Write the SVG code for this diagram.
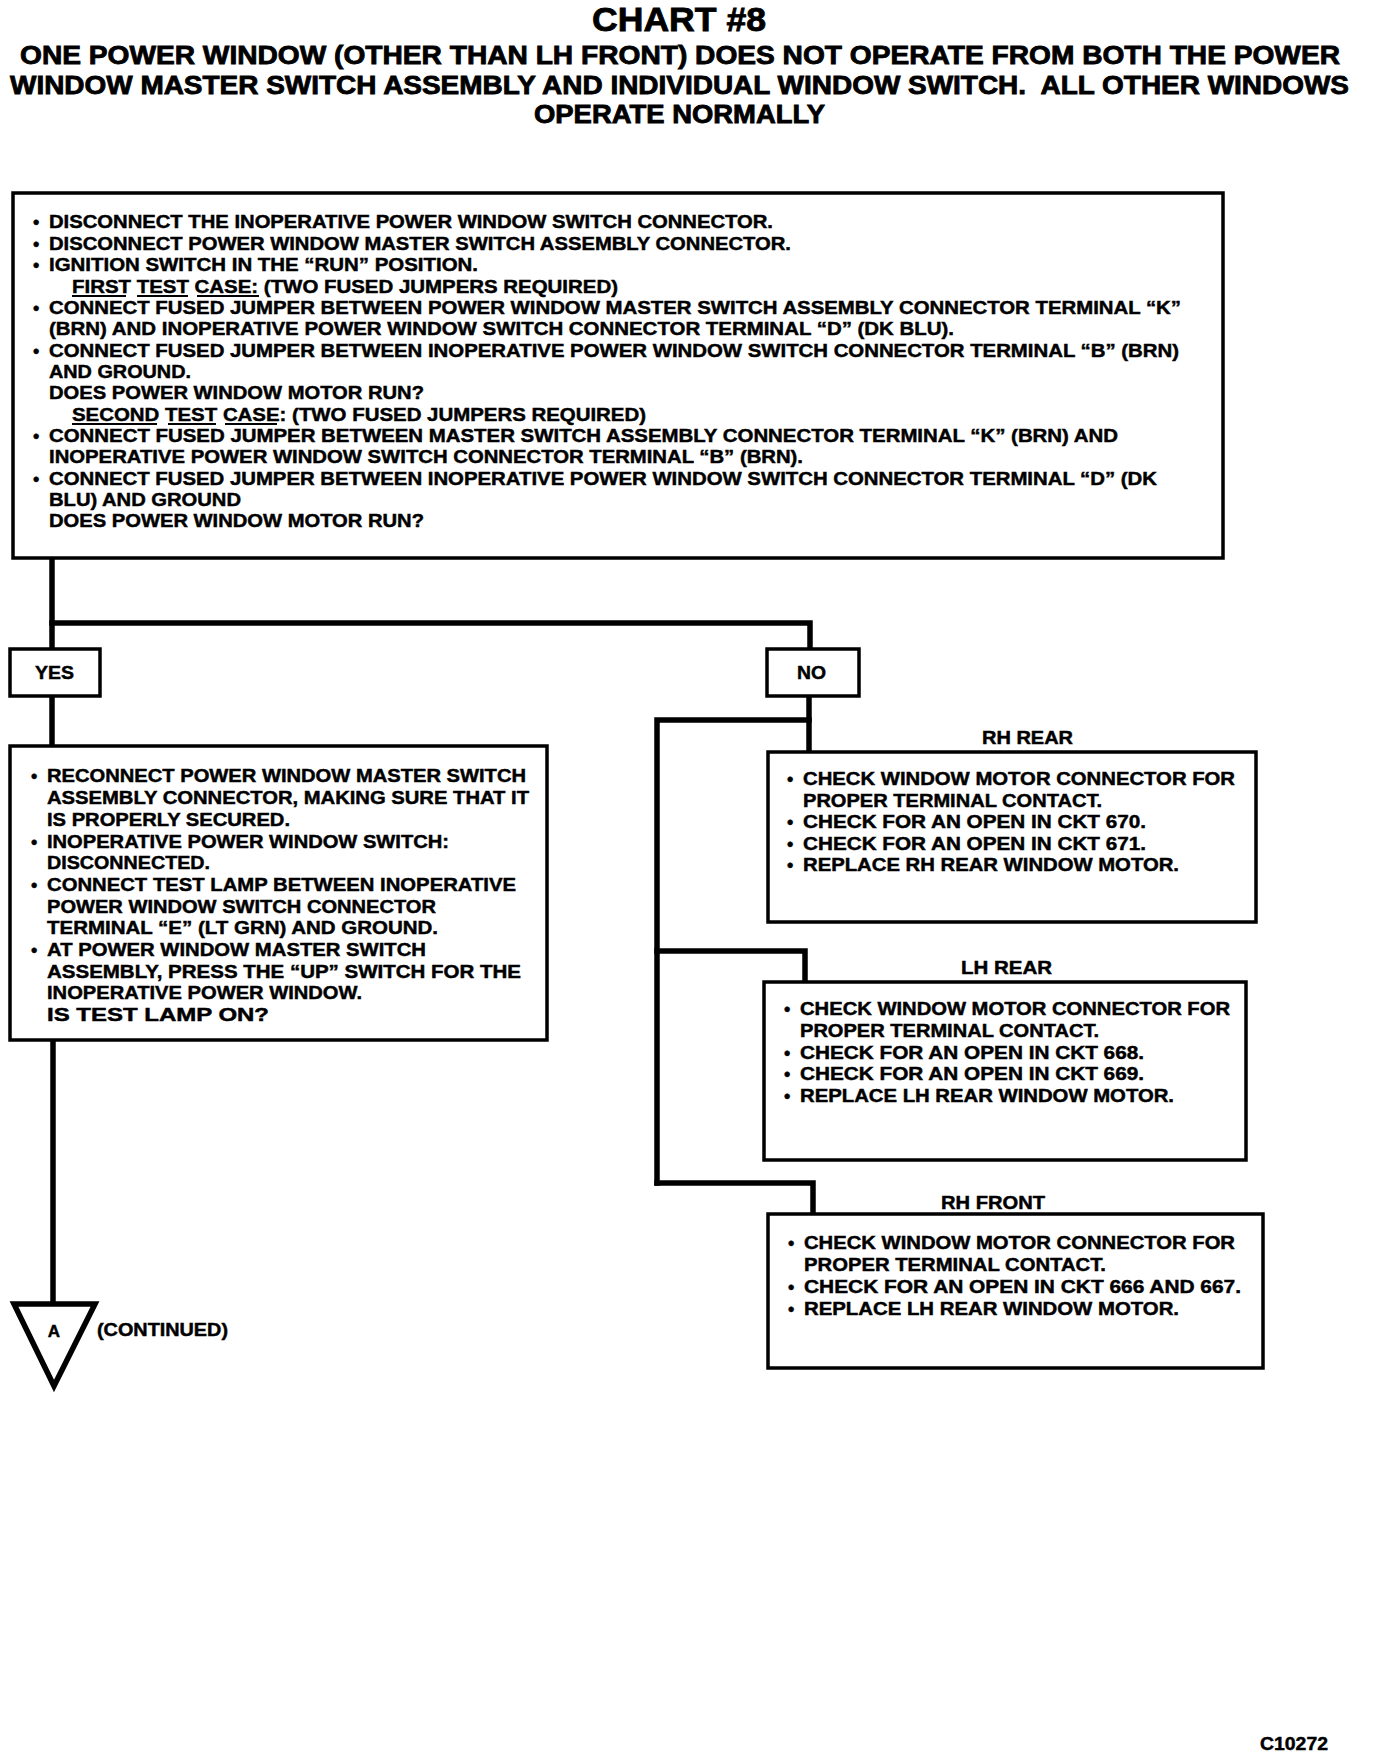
<svg xmlns="http://www.w3.org/2000/svg" width="1376" height="1758" viewBox="0 0 1376 1758">
<style>
text{font-family:"Liberation Sans",Arial,sans-serif;font-weight:bold;fill:#000;stroke:#000;stroke-width:0.45}
.b{font-size:18px}
.t{font-size:33px;stroke-width:0.8}
.s{font-size:25px;stroke-width:0.8}
.box{fill:#fff;stroke:#000;stroke-width:3.5}
.con{fill:none;stroke:#000;stroke-width:5.5;stroke-linecap:square}
.ul{stroke:#000;stroke-width:2}
</style>
<rect width="1376" height="1758" fill="#fff"/>
<g id="title">
<text class="t" x="592" y="31" textLength="174" lengthAdjust="spacingAndGlyphs">CHART #8</text>
<text class="s" x="20" y="64" textLength="1320" lengthAdjust="spacingAndGlyphs">ONE POWER WINDOW (OTHER THAN LH FRONT) DOES NOT OPERATE FROM BOTH THE POWER</text>
<text class="s" x="10" y="94" textLength="1339" lengthAdjust="spacingAndGlyphs" xml:space="preserve">WINDOW MASTER SWITCH ASSEMBLY AND INDIVIDUAL WINDOW SWITCH.  ALL OTHER WINDOWS</text>
<text class="s" x="534" y="123" textLength="291" lengthAdjust="spacingAndGlyphs">OPERATE NORMALLY</text>
</g>
<g id="connectors">
<polyline class="con" points="52,558 52,649"/>
<polyline class="con" points="52,623 810,623 810,649"/>
<polyline class="con" points="52,696 52,746"/>
<polyline class="con" points="53,1040 53,1304"/>
<polyline class="con" points="809,696 809,752"/>
<polyline class="con" points="809,720 657,720 657,1183"/>
<polyline class="con" points="657,951 805,951 805,982"/>
<polyline class="con" points="657,1183 813,1183 813,1214"/>
</g>
<g id="start">
<rect class="box" x="13" y="193" width="1210" height="365"/>
<text class="b" x="33" y="228.4">•</text><text class="b" x="49" y="228.4" textLength="724" lengthAdjust="spacingAndGlyphs">DISCONNECT THE INOPERATIVE POWER WINDOW SWITCH CONNECTOR.</text>
<text class="b" x="33" y="249.8">•</text><text class="b" x="49" y="249.8" textLength="742" lengthAdjust="spacingAndGlyphs">DISCONNECT POWER WINDOW MASTER SWITCH ASSEMBLY CONNECTOR.</text>
<text class="b" x="33" y="271.1">•</text><text class="b" x="49" y="271.1" textLength="429" lengthAdjust="spacingAndGlyphs">IGNITION SWITCH IN THE “RUN” POSITION.</text>
<text class="b" x="72" y="292.5" textLength="546" lengthAdjust="spacingAndGlyphs">FIRST TEST CASE: (TWO FUSED JUMPERS REQUIRED)</text>
<line class="ul" x1="72" y1="296" x2="126" y2="296"/><line class="ul" x1="137" y1="296" x2="188" y2="296"/><line class="ul" x1="197" y1="296" x2="259" y2="296"/>
<text class="b" x="33" y="313.8">•</text><text class="b" x="49" y="313.8" textLength="1132" lengthAdjust="spacingAndGlyphs">CONNECT FUSED JUMPER BETWEEN POWER WINDOW MASTER SWITCH ASSEMBLY CONNECTOR TERMINAL “K”</text>
<text class="b" x="49" y="335.2" textLength="905" lengthAdjust="spacingAndGlyphs">(BRN) AND INOPERATIVE POWER WINDOW SWITCH CONNECTOR TERMINAL “D” (DK BLU).</text>
<text class="b" x="33" y="356.6">•</text><text class="b" x="49" y="356.6" textLength="1130" lengthAdjust="spacingAndGlyphs">CONNECT FUSED JUMPER BETWEEN INOPERATIVE POWER WINDOW SWITCH CONNECTOR TERMINAL “B” (BRN)</text>
<text class="b" x="49" y="377.9" textLength="142" lengthAdjust="spacingAndGlyphs">AND GROUND.</text>
<text class="b" x="49" y="399.3" textLength="375" lengthAdjust="spacingAndGlyphs">DOES POWER WINDOW MOTOR RUN?</text>
<text class="b" x="72" y="420.6" textLength="574" lengthAdjust="spacingAndGlyphs">SECOND TEST CASE: (TWO FUSED JUMPERS REQUIRED)</text>
<line class="ul" x1="72" y1="424" x2="157" y2="424"/><line class="ul" x1="168" y1="424" x2="216" y2="424"/><line class="ul" x1="225" y1="424" x2="277" y2="424"/>
<text class="b" x="33" y="442">•</text><text class="b" x="49" y="442" textLength="1069" lengthAdjust="spacingAndGlyphs">CONNECT FUSED JUMPER BETWEEN MASTER SWITCH ASSEMBLY CONNECTOR TERMINAL “K” (BRN) AND</text>
<text class="b" x="49" y="463.4" textLength="754" lengthAdjust="spacingAndGlyphs">INOPERATIVE POWER WINDOW SWITCH CONNECTOR TERMINAL “B” (BRN).</text>
<text class="b" x="33" y="484.7">•</text><text class="b" x="49" y="484.7" textLength="1108" lengthAdjust="spacingAndGlyphs">CONNECT FUSED JUMPER BETWEEN INOPERATIVE POWER WINDOW SWITCH CONNECTOR TERMINAL “D” (DK</text>
<text class="b" x="49" y="506.1" textLength="192" lengthAdjust="spacingAndGlyphs">BLU) AND GROUND</text>
<text class="b" x="49" y="527.4" textLength="375" lengthAdjust="spacingAndGlyphs">DOES POWER WINDOW MOTOR RUN?</text>
</g>
<g id="yes">
<rect class="box" x="10" y="649" width="90" height="47"/>
<text class="b" x="35" y="679" textLength="39" lengthAdjust="spacingAndGlyphs">YES</text>
</g>
<g id="no">
<rect class="box" x="767" y="649" width="92" height="47"/>
<text class="b" x="797" y="679" textLength="29" lengthAdjust="spacingAndGlyphs">NO</text>
</g>
<g id="test-lamp">
<rect class="box" x="10" y="746" width="537" height="294"/>
<text class="b" x="31" y="782.4">•</text><text class="b" x="47" y="782.4" textLength="479" lengthAdjust="spacingAndGlyphs">RECONNECT POWER WINDOW MASTER SWITCH</text>
<text class="b" x="47" y="804.1" textLength="482" lengthAdjust="spacingAndGlyphs">ASSEMBLY CONNECTOR, MAKING SURE THAT IT</text>
<text class="b" x="47" y="825.8" textLength="243" lengthAdjust="spacingAndGlyphs">IS PROPERLY SECURED.</text>
<text class="b" x="31" y="847.5">•</text><text class="b" x="47" y="847.5" textLength="402" lengthAdjust="spacingAndGlyphs">INOPERATIVE POWER WINDOW SWITCH:</text>
<text class="b" x="47" y="869.2" textLength="163" lengthAdjust="spacingAndGlyphs">DISCONNECTED.</text>
<text class="b" x="31" y="890.9">•</text><text class="b" x="47" y="890.9" textLength="469" lengthAdjust="spacingAndGlyphs">CONNECT TEST LAMP BETWEEN INOPERATIVE</text>
<text class="b" x="47" y="912.6" textLength="389" lengthAdjust="spacingAndGlyphs">POWER WINDOW SWITCH CONNECTOR</text>
<text class="b" x="47" y="934.3" textLength="391" lengthAdjust="spacingAndGlyphs">TERMINAL “E” (LT GRN) AND GROUND.</text>
<text class="b" x="31" y="956">•</text><text class="b" x="47" y="956" textLength="379" lengthAdjust="spacingAndGlyphs">AT POWER WINDOW MASTER SWITCH</text>
<text class="b" x="47" y="977.7" textLength="474" lengthAdjust="spacingAndGlyphs">ASSEMBLY, PRESS THE “UP” SWITCH FOR THE</text>
<text class="b" x="47" y="999.4" textLength="315" lengthAdjust="spacingAndGlyphs">INOPERATIVE POWER WINDOW.</text>
<text class="b" x="47" y="1021.1" textLength="222" lengthAdjust="spacingAndGlyphs">IS TEST LAMP ON?</text>
</g>
<g id="continued">
<polygon points="14,1304 95,1304 54,1386" fill="#fff" stroke="#000" stroke-width="5.5" stroke-linejoin="miter"/>
<text x="54" y="1337" font-size="17" text-anchor="middle">A</text>
<text class="b" x="97" y="1336" textLength="131" lengthAdjust="spacingAndGlyphs">(CONTINUED)</text>
</g>
<g id="rh-rear">
<text class="b" x="982" y="744" textLength="91" lengthAdjust="spacingAndGlyphs">RH REAR</text>
<rect class="box" x="768" y="752" width="488" height="170"/>
<text class="b" x="787" y="785.4">•</text><text class="b" x="803" y="785.4" textLength="432" lengthAdjust="spacingAndGlyphs">CHECK WINDOW MOTOR CONNECTOR FOR</text>
<text class="b" x="803" y="806.9" textLength="299" lengthAdjust="spacingAndGlyphs">PROPER TERMINAL CONTACT.</text>
<text class="b" x="787" y="828.4">•</text><text class="b" x="803" y="828.4" textLength="343" lengthAdjust="spacingAndGlyphs">CHECK FOR AN OPEN IN CKT 670.</text>
<text class="b" x="787" y="849.9">•</text><text class="b" x="803" y="849.9" textLength="343" lengthAdjust="spacingAndGlyphs">CHECK FOR AN OPEN IN CKT 671.</text>
<text class="b" x="787" y="871.4">•</text><text class="b" x="803" y="871.4" textLength="376" lengthAdjust="spacingAndGlyphs">REPLACE RH REAR WINDOW MOTOR.</text>
</g>
<g id="lh-rear">
<text class="b" x="961" y="974" textLength="91" lengthAdjust="spacingAndGlyphs">LH REAR</text>
<rect class="box" x="764" y="982" width="482" height="178"/>
<text class="b" x="784" y="1015.4">•</text><text class="b" x="800" y="1015.4" textLength="430" lengthAdjust="spacingAndGlyphs">CHECK WINDOW MOTOR CONNECTOR FOR</text>
<text class="b" x="800" y="1037" textLength="299" lengthAdjust="spacingAndGlyphs">PROPER TERMINAL CONTACT.</text>
<text class="b" x="784" y="1058.6">•</text><text class="b" x="800" y="1058.6" textLength="344" lengthAdjust="spacingAndGlyphs">CHECK FOR AN OPEN IN CKT 668.</text>
<text class="b" x="784" y="1080.2">•</text><text class="b" x="800" y="1080.2" textLength="344" lengthAdjust="spacingAndGlyphs">CHECK FOR AN OPEN IN CKT 669.</text>
<text class="b" x="784" y="1101.8">•</text><text class="b" x="800" y="1101.8" textLength="374" lengthAdjust="spacingAndGlyphs">REPLACE LH REAR WINDOW MOTOR.</text>
</g>
<g id="rh-front">
<text class="b" x="941" y="1209" textLength="104" lengthAdjust="spacingAndGlyphs">RH FRONT</text>
<rect class="box" x="768" y="1214" width="495" height="154"/>
<text class="b" x="788" y="1249.4">•</text><text class="b" x="804" y="1249.4" textLength="431" lengthAdjust="spacingAndGlyphs">CHECK WINDOW MOTOR CONNECTOR FOR</text>
<text class="b" x="804" y="1271.1" textLength="302" lengthAdjust="spacingAndGlyphs">PROPER TERMINAL CONTACT.</text>
<text class="b" x="788" y="1292.8">•</text><text class="b" x="804" y="1292.8" textLength="437" lengthAdjust="spacingAndGlyphs">CHECK FOR AN OPEN IN CKT 666 AND 667.</text>
<text class="b" x="788" y="1314.5">•</text><text class="b" x="804" y="1314.5" textLength="375" lengthAdjust="spacingAndGlyphs">REPLACE LH REAR WINDOW MOTOR.</text>
</g>
<text class="b" x="1260" y="1750" textLength="68" lengthAdjust="spacingAndGlyphs">C10272</text>
</svg>
